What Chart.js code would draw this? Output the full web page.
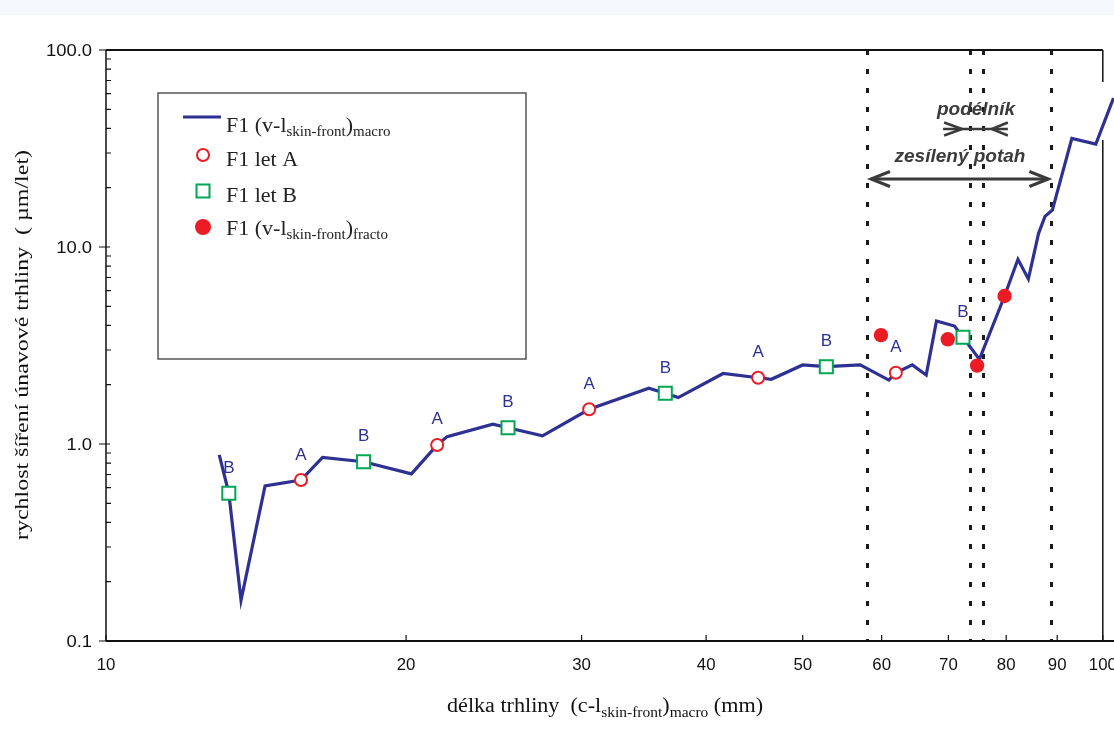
<!DOCTYPE html>
<html>
<head>
<meta charset="utf-8">
<script src="https://cdn.jsdelivr.net/npm/chart.js@4.4.1/dist/chart.umd.min.js"></script>
<style>
    body { margin: 0; background: #fff; }
    #wrap { position: relative; width: 1114px; height: 731px; background: linear-gradient(#f5f9fd 0, #f5f9fd 15px, #fff 15px); }
</style>
</head>
<body>
<div id="wrap"><canvas id="chart" width="1114" height="731"></canvas></div>
<script>
// crack length (mm) and crack growth rate (um/let)
const macroX = [12.99, 13.28, 13.66, 14.44, 15.69, 16.49, 18.13, 20.25, 21.49, 21.99, 24.44, 25.31, 27.41, 30.53, 35.04, 36.4, 37.5, 41.6, 45.1, 46.5, 50.0, 52.8, 57.1, 61.0, 62.0, 64.4, 66.5, 68.1, 71.0, 72.4, 75.2, 79.7, 82.2, 84.2, 86.2, 87.5, 89.0, 93.1, 98.4, 102.5];
const macroY = [0.88, 0.563, 0.161, 0.612, 0.656, 0.856, 0.813, 0.705, 0.989, 1.09, 1.26, 1.21, 1.10, 1.50, 1.92, 1.81, 1.72, 2.28, 2.17, 2.13, 2.52, 2.47, 2.52, 2.11, 2.30, 2.52, 2.24, 4.21, 3.97, 3.48, 2.69, 5.64, 8.66, 6.88, 11.7, 14.3, 15.4, 35.6, 33.3, 57.0];

const letAX = [15.69, 21.49, 30.53, 45.1, 62.0];
const letAY = [0.656, 0.989, 1.50, 2.17, 2.30];

const letBX = [13.28, 18.13, 25.31, 36.4, 52.8, 72.4];
const letBY = [0.563, 0.813, 1.21, 1.81, 2.47, 3.48];

const fractoX = [59.9, 69.9, 74.8, 79.7];
const fractoY = [3.57, 3.40, 2.50, 5.64];

// vertical dashed boundaries (mm)
const boundaries = [58.0, 73.6, 75.8, 88.8];

const xTicks = [10, 20, 30, 40, 50, 60, 70, 80, 90, 100];
const xTickLabels = ["10", "20", "30", "40", "50", "60", "70", "80", "90", "100"];
const yTicks = [0.1, 1, 10, 100];
const yTickLabels = ["0.1", "1.0", "10.0", "100.0"];

const COLORS = {
    line: "#2e3192",
    red: "#ed1c24",
    green: "#00a651",
    axis: "#111111",
    note: "#3a3a3a",
};

const SERIF = "'Liberation Serif', 'Times New Roman', serif";
const SANS = "'Liberation Sans', Arial, sans-serif";

function toPoints(xs, ys) {
    return xs.map((x, i) => ({ x: x, y: ys[i] }));
}

function segWidth(ctx, segs) {
    let w = 0;
    for (const s of segs) {
        ctx.font = s.font;
        w += ctx.measureText(s.text).width;
    }
    return w;
}

// draws text made of pieces (for subscripts), stretched horizontally by sx
function drawRich(ctx, segs, x, y, align, sx) {
    const w = segWidth(ctx, segs) * sx;
    let left = x;
    if (align === "center") left = x - w / 2;
    if (align === "right") left = x - w;
    ctx.save();
    ctx.translate(left, y);
    ctx.scale(sx, 1);
    ctx.textAlign = "left";
    ctx.textBaseline = "alphabetic";
    let px = 0;
    for (const s of segs) {
        ctx.font = s.font;
        ctx.fillText(s.text, px, s.dy || 0);
        px += ctx.measureText(s.text).width;
    }
    ctx.restore();
}

function drawRichFit(ctx, segs, x, y, align, targetW) {
    drawRich(ctx, segs, x, y, align, targetW / segWidth(ctx, segs));
}

function chevron(ctx, tipX, tipY, dir, len, half) {
    ctx.beginPath();
    ctx.moveTo(tipX - dir * len, tipY - half);
    ctx.lineTo(tipX, tipY);
    ctx.lineTo(tipX - dir * len, tipY + half);
    ctx.stroke();
}

const framePlugin = {
    id: "frame",
    beforeDatasetsDraw(chart) {
        const ctx = chart.ctx;
        const xs = chart.scales.x;
        const ys = chart.scales.y;
        const a = chart.chartArea;

        // dashed region boundaries
        ctx.save();
        ctx.strokeStyle = "#1a1a1a";
        ctx.lineWidth = 3;
        ctx.setLineDash([5, 14]);
        for (const b of boundaries) {
            const px = Math.round(xs.getPixelForValue(b)) + 0.5;
            ctx.beginPath();
            ctx.moveTo(px, a.top);
            ctx.lineTo(px, a.bottom);
            ctx.stroke();
        }
        ctx.restore();

        // axes frame
        ctx.save();
        ctx.strokeStyle = COLORS.axis;
        ctx.lineWidth = 2;
        ctx.beginPath();
        ctx.moveTo(a.left, a.top);
        ctx.lineTo(a.right, a.top);
        ctx.moveTo(a.left, a.bottom);
        ctx.lineTo(chart.width, a.bottom);
        ctx.stroke();
        ctx.lineWidth = 1.5;
        ctx.beginPath();
        ctx.moveTo(a.left, a.top);
        ctx.lineTo(a.left, a.bottom);
        ctx.moveTo(a.right, a.top);
        ctx.lineTo(a.right, a.top + 32);
        ctx.moveTo(a.right, a.top + 90);
        ctx.lineTo(a.right, a.bottom);
        ctx.stroke();

        // y ticks: majors cross the axis, minors inside
        ctx.lineWidth = 1.2;
        ctx.beginPath();
        for (const t of yTicks) {
            const py = ys.getPixelForValue(t);
            ctx.moveTo(a.left - 7, py);
            ctx.lineTo(a.left + 4, py);
        }
        for (let d = 0.1; d < 100; d *= 10) {
            for (let k = 2; k <= 9; k++) {
                const py = ys.getPixelForValue(d * k);
                ctx.moveTo(a.left, py);
                ctx.lineTo(a.left + 5, py);
            }
        }
        // x ticks, pointing up
        for (const t of xTicks) {
            const px = xs.getPixelForValue(t);
            ctx.moveTo(px, a.bottom);
            ctx.lineTo(px, a.bottom - 6);
        }
        ctx.stroke();

        // tick labels
        ctx.fillStyle = "#111";
        yTicks.forEach((t, i) => {
            const py = ys.getPixelForValue(t);
            drawRich(ctx, [{ text: yTickLabels[i], font: "16px " + SANS }], a.left - 14, py + 6, "right", 1.15);
        });
        xTicks.forEach((t, i) => {
            const px = xs.getPixelForValue(t);
            drawRich(ctx, [{ text: xTickLabels[i], font: "16px " + SANS }], px, a.bottom + 29, "center", 1.05);
        });

        // axis titles
        drawRichFit(ctx, [
            { text: "délka trhliny  (c-l", font: "20px " + SERIF },
            { text: "skin-front", font: "14px " + SERIF, dy: 5 },
            { text: ")", font: "20px " + SERIF },
            { text: "macro", font: "14px " + SERIF, dy: 5 },
            { text: " (mm)", font: "20px " + SERIF },
        ], 605, 712, "center", 316);

        ctx.save();
        ctx.translate(28, 345);
        ctx.rotate(-Math.PI / 2);
        drawRichFit(ctx, [{ text: "rychlost šíření únavové trhliny  ( µm/let)", font: "19px " + SERIF }], 0, 0, "center", 390);
        ctx.restore();
        ctx.restore();
    },
    afterDatasetsDraw(chart) {
        const ctx = chart.ctx;
        const xs = chart.scales.x;

        // A / B flight labels above the markers
        ctx.save();
        ctx.fillStyle = COLORS.line;
        ctx.font = "17px " + SANS;
        ctx.textAlign = "center";
        ctx.textBaseline = "alphabetic";
        for (const [idx, txt] of [[1, "A"], [2, "B"]]) {
            for (const el of chart.getDatasetMeta(idx).data) {
                ctx.fillText(txt, el.x, el.y - 20.5);
            }
        }
        ctx.restore();

        // region notes
        const b0 = xs.getPixelForValue(boundaries[0]);
        const b1 = xs.getPixelForValue(boundaries[1]);
        const b2 = xs.getPixelForValue(boundaries[2]);
        const b3 = xs.getPixelForValue(boundaries[3]);
        ctx.save();
        ctx.fillStyle = COLORS.note;
        ctx.strokeStyle = COLORS.note;
        ctx.font = "italic bold 19px " + SANS;
        ctx.textAlign = "center";
        ctx.fillText("podélník", 976, 115);
        ctx.fillText("zesílený potah", 960, 162);

        ctx.lineWidth = 2.5;
        ctx.beginPath();
        ctx.moveTo(b1 - 27, 129);
        ctx.lineTo(b2 + 25, 129);
        ctx.stroke();
        chevron(ctx, b1 - 8, 129, 1, 18, 6.5);
        chevron(ctx, b2 + 9, 129, -1, 16, 6.5);

        ctx.lineWidth = 3;
        ctx.beginPath();
        ctx.moveTo(b0 + 4, 179);
        ctx.lineTo(b3 - 3, 179);
        ctx.stroke();
        chevron(ctx, b0 + 4, 179, -1, 19, 7.5);
        chevron(ctx, b3 - 3, 179, 1, 19, 7.5);
        ctx.restore();

        // legend box
        ctx.save();
        ctx.strokeStyle = "#555";
        ctx.lineWidth = 1.5;
        ctx.strokeRect(158, 93, 368, 266);

        ctx.strokeStyle = COLORS.line;
        ctx.lineWidth = 3;
        ctx.beginPath();
        ctx.moveTo(183, 117);
        ctx.lineTo(221, 117);
        ctx.stroke();

        ctx.lineWidth = 2;
        ctx.strokeStyle = COLORS.red;
        ctx.fillStyle = "#fff";
        ctx.beginPath();
        ctx.arc(203, 155, 6, 0, Math.PI * 2);
        ctx.fill();
        ctx.stroke();

        ctx.strokeStyle = COLORS.green;
        ctx.strokeRect(196.5, 184.5, 13, 13);

        ctx.fillStyle = COLORS.red;
        ctx.beginPath();
        ctx.arc(203, 227, 8, 0, Math.PI * 2);
        ctx.fill();

        ctx.fillStyle = "#222";
        const big = "22px " + SERIF;
        const small = "15px " + SERIF;
        drawRich(ctx, [
            { text: "F1 (v-l", font: big },
            { text: "skin-front", font: small, dy: 4 },
            { text: ")", font: big },
            { text: "macro", font: small, dy: 4 },
        ], 226, 132, "left", 1);
        drawRich(ctx, [{ text: "F1 let A", font: big }], 226, 166, "left", 1);
        drawRich(ctx, [{ text: "F1 let B", font: big }], 226, 202, "left", 1);
        drawRich(ctx, [
            { text: "F1 (v-l", font: big },
            { text: "skin-front", font: small, dy: 4 },
            { text: ")", font: big },
            { text: "fracto", font: small, dy: 4 },
        ], 226, 235, "left", 1);
        ctx.restore();
    },
};

new Chart(document.getElementById("chart").getContext("2d"), {
    type: "scatter",
    data: {
        datasets: [
            {
                label: "F1 (v-l skin-front) macro",
                data: toPoints(macroX, macroY),
                showLine: true,
                borderColor: COLORS.line,
                borderWidth: 3.2,
                pointRadius: 0,
                tension: 0,
                clip: false,
                order: 3,
            },
            {
                label: "F1 let A",
                data: toPoints(letAX, letAY),
                pointStyle: "circle",
                pointRadius: 6,
                borderWidth: 2,
                borderColor: COLORS.red,
                backgroundColor: "#fff",
                order: 1,
            },
            {
                label: "F1 let B",
                data: toPoints(letBX, letBY),
                pointStyle: "rect",
                pointRadius: 9.2,
                borderWidth: 2,
                borderColor: COLORS.green,
                backgroundColor: "#fff",
                order: 1,
            },
            {
                label: "F1 (v-l skin-front) fracto",
                data: toPoints(fractoX, fractoY),
                pointStyle: "circle",
                pointRadius: 7.2,
                borderWidth: 0,
                backgroundColor: COLORS.red,
                order: 0,
            },
        ],
    },
    options: {
        responsive: false,
        animation: false,
        layout: { padding: { left: 106, right: 10.5, top: 50, bottom: 90 } },
        plugins: { legend: { display: false }, tooltip: { enabled: false } },
        scales: {
            x: { type: "logarithmic", min: 10, max: 100, display: false },
            y: { type: "logarithmic", min: 0.1, max: 100, display: false },
        },
    },
    plugins: [framePlugin],
});
</script>
</body>
</html>
